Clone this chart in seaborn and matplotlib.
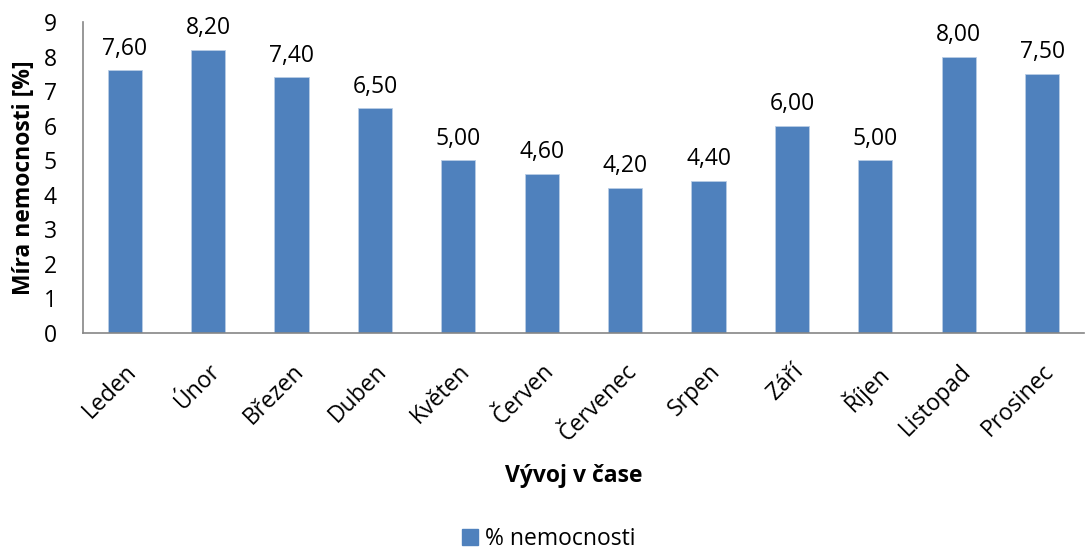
import matplotlib
matplotlib.use("Agg")
import matplotlib.pyplot as plt
import matplotlib.transforms as mtransforms
import seaborn as sns
import pandas as pd
import numpy as np

months = ["Leden", "Únor", "Březen", "Duben", "Květen", "Červen",
          "Červenec", "Srpen", "Září", "Říjen", "Listopad", "Prosinec"]
values = [7.60, 8.20, 7.40, 6.50, 5.00, 4.60, 4.20, 4.40, 6.00, 5.00, 8.00, 7.50]
series_name = "% nemocnosti"
y_ticks = list(range(0, 10))

sns.set_theme(style="white")
plt.rcParams["font.family"] = ["Open Sans", "DejaVu Sans"]
plt.rcParams["text.color"] = "#000000"

FS = 16.5
df = pd.DataFrame({"month": months, "value": values, "series": series_name})

fig = plt.figure(figsize=(10.86, 5.51), dpi=100)
ax = fig.add_axes([0.0764, 0.3956, 0.9216, 0.5644])

sns.barplot(data=df, x="month", y="value", hue="series", palette=["#4F81BD"],
            saturation=1, width=0.41, ax=ax, edgecolor="#b9cde5", linewidth=0.6,
            legend=False)

ax.set_ylim(0, 9)
ax.set_xlim(-0.5, len(months) - 0.5)
ax.set_yticks(y_ticks)
ax.set_yticklabels([str(t) for t in y_ticks], fontsize=FS)

for cont in ax.containers:
    ax.bar_label(cont, labels=[f"{v:.2f}".replace(".", ",") for v in values],
                 padding=7, fontsize=FS, color="#000000")

# category boundaries get the tick marks, labels sit under the bars
ax.set_xticks(np.arange(len(months)))
ax.set_xticklabels(months, rotation=45, ha="right", va="top",
                   rotation_mode="anchor", fontsize=FS)
shift = mtransforms.ScaledTranslation(6 / 100, 0, fig.dpi_scale_trans)
for lbl in ax.get_xticklabels():
    lbl.set_transform(lbl.get_transform() + shift)
ax.set_xticks(np.arange(-0.5, len(months), 1.0), minor=True)
ax.tick_params(axis="x", which="major", length=0, pad=19)
ax.tick_params(axis="x", which="minor", length=7, width=1.2, color="#868686", direction="out")
ax.tick_params(axis="y", which="major", length=7, width=1.2, color="#868686",
               direction="out", pad=12)
ax.tick_params(axis="both", labelcolor="#000000")

for side in ["top", "right"]:
    ax.spines[side].set_visible(False)
for side in ["left", "bottom"]:
    ax.spines[side].set_color("#868686")
    ax.spines[side].set_linewidth(1.2)

ax.set_xlabel("Vývoj v čase", fontsize=FS, fontweight="bold", color="#000000")
ax.set_ylabel("Míra nemocnosti [%]", fontsize=FS, fontweight="bold", color="#000000")
ax.xaxis.set_label_coords(0.49, -0.42)
ax.yaxis.set_label_coords(-0.047, 0.5)

handle = plt.Rectangle((0, 0), 1, 1, color="#4F81BD")
fig.legend([handle], [series_name], loc="center", bbox_to_anchor=(0.505, 0.022),
           frameon=False, fontsize=FS, handlelength=0.7, handleheight=0.7,
           handletextpad=0.3, borderpad=0.1, labelcolor="#000000")

fig.savefig("out.png", dpi=100, facecolor="white")
